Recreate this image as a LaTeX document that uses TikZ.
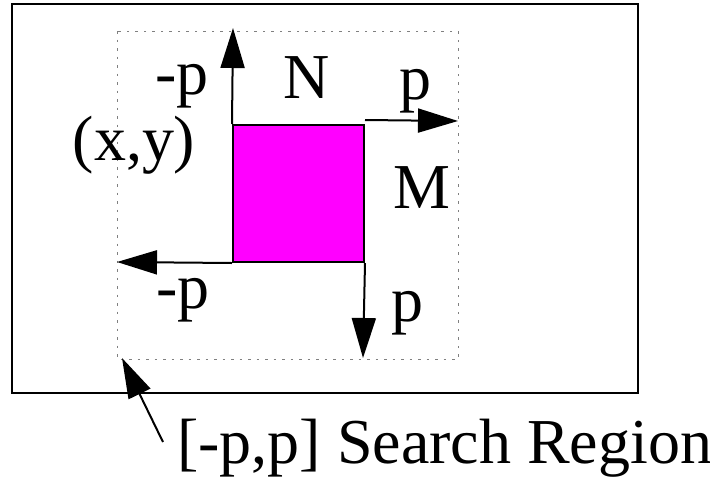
\documentclass[tikz,border=0pt]{standalone}
\usepackage{fontspec}
\setmainfont{Liberation Serif}
\usetikzlibrary{arrows.meta}
\definecolor{blkmag}{RGB}{255,0,255}
\begin{document}
\begin{tikzpicture}[x=1pt,y=-1pt,>={Triangle[length=40pt,width=24pt]},
    font=\fontsize{64}{70}\selectfont,
    lbl/.style={anchor=base,inner sep=0pt},
    arr/.style={->,line width=2pt},
    blkbox/.style={draw,line width=2pt,fill=blkmag,inner sep=0pt,
        minimum width=131pt,minimum height=137pt}]
            \def\mx{117} \def\max{458}
            \def\my{31} \def\may{359}
            \useasboundingbox (0,0) rectangle (710,480);
            \draw[line width=2.5pt] (12,4) rectangle (638,393);
            \draw[gray,line width=1pt,dash pattern=on 2.5pt off 6pt] (\mx,\my) rectangle (\max,\may);
            %===========================================
            \node[blkbox] (blk) at (298.5,193.5) {};
            \coordinate (up) at (233,28);
            \coordinate (rt) at (\max,121);
            \coordinate (lf) at (\mx,262);
            \coordinate (dn) at (363,358);
            \draw[arr] (blk.north west)--(up);
            \draw[arr] ([yshift=4pt]blk.north east)--(rt);
            \draw[arr] (blk.south west)--(lf);
            \draw[arr] (blk.south east)--(dn);
            %===========================================
            \foreach \n/\t/\px/\py in {mpup/-p/182/94,lN/N/307/98,pup/p/415/99,xy/(x{,}y)/134/160,
                lM/M/422/208,pdn/p/407/321,mpdn/-p/183/308}
                \node[lbl] (\n) at (\px,\py) {\t};
            \node[lbl,anchor=base west] (cap) at (177,463) {[-p,p] Search Region};
            \coordinate (tail) at (163,442);
            \draw[arr] (tail)--(122,358);
    \end{tikzpicture}
\end{document}
